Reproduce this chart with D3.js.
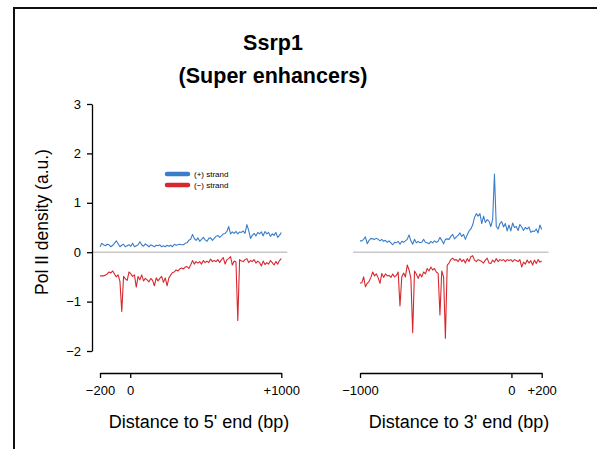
<!DOCTYPE html>
<html>
<head>
<meta charset="utf-8">
<script src="https://cdn.jsdelivr.net/npm/d3@7"></script>
<style>
  body { margin: 0; background: #fff; }
  svg { display: block; }
  text { font-family: "Liberation Sans", Arial, sans-serif; fill: #000; }
</style>
</head>
<body>
<div id="chart"></div>
<script>
// binned Pol II density, 12 bp bins
var STEP = 12;

// 5' end panel, -200 .. +1000 bp
var fivePlus = [0.11,0.18,0.15,0.13,0.16,0.15,0.11,0.14,0.18,0.23,0.17,0.11,0.14,0.16,0.11,0.13,0.15,0.12,0.18,0.11,
  0.13,0.15,0.21,0.15,0.12,0.17,0.14,0.11,0.15,0.13,0.11,0.14,0.13,0.15,0.11,0.13,0.11,0.14,0.12,0.14,
  0.11,0.16,0.14,0.15,0.16,0.15,0.15,0.18,0.19,0.24,0.26,0.36,0.28,0.24,0.29,0.22,0.26,0.30,0.25,0.22,
  0.28,0.29,0.24,0.28,0.32,0.34,0.30,0.33,0.37,0.38,0.42,0.52,0.37,0.41,0.38,0.42,0.37,0.41,0.40,0.43,
  0.38,0.56,0.44,0.28,0.34,0.38,0.33,0.40,0.37,0.41,0.33,0.42,0.37,0.40,0.32,0.37,0.34,0.40,0.30,0.34,0.40];
var fiveMinus = [-0.48,-0.48,-0.48,-0.46,-0.44,-0.40,-0.42,-0.38,-0.44,-0.50,-0.46,-0.59,-1.20,-0.49,-0.54,-0.57,-0.40,-0.44,-0.49,-0.46,
  -0.71,-0.49,-0.56,-0.46,-0.58,-0.53,-0.56,-0.60,-0.53,-0.57,-0.68,-0.52,-0.58,-0.53,-0.49,-0.61,-0.52,-0.68,-0.52,-0.46,
  -0.41,-0.40,-0.36,-0.38,-0.34,-0.32,-0.34,-0.30,-0.29,-0.33,-0.26,-0.17,-0.24,-0.19,-0.22,-0.19,-0.24,-0.17,-0.21,-0.18,
  -0.21,-0.14,-0.19,-0.17,-0.19,-0.15,-0.21,-0.15,-0.11,-0.24,-0.15,-0.13,-0.09,-0.26,-0.18,-0.20,-1.38,-0.15,-0.18,-0.19,
  -0.15,-0.13,-0.21,-0.17,-0.19,-0.15,-0.22,-0.18,-0.21,-0.28,-0.18,-0.25,-0.21,-0.24,-0.17,-0.21,-0.26,-0.19,-0.24,-0.17,-0.13];

// 3' end panel, -1000 .. +200 bp
var threePlus = [0.23,0.23,0.26,0.31,0.17,0.24,0.28,0.27,0.26,0.28,0.26,0.23,0.26,0.22,0.24,0.20,0.23,0.19,0.15,0.20,
  0.19,0.22,0.16,0.22,0.20,0.23,0.26,0.35,0.23,0.16,0.26,0.19,0.22,0.19,0.20,0.26,0.20,0.19,0.17,0.22,
  0.19,0.23,0.20,0.22,0.30,0.24,0.17,0.26,0.27,0.26,0.32,0.36,0.27,0.31,0.34,0.39,0.32,0.36,0.26,0.35,
  0.43,0.47,0.55,0.70,0.78,0.73,0.78,0.58,0.73,0.60,0.66,0.63,0.52,0.66,1.58,0.52,0.47,0.58,0.62,0.51,
  0.58,0.43,0.55,0.43,0.59,0.50,0.52,0.44,0.56,0.51,0.44,0.50,0.47,0.51,0.40,0.43,0.42,0.47,0.39,0.55,0.46];
var threeMinus = [-0.63,-0.62,-0.50,-0.70,-0.63,-0.59,-0.51,-0.40,-0.48,-0.44,-0.52,-0.63,-0.43,-0.51,-0.44,-0.48,-0.47,-0.51,-0.44,-0.50,
  -0.47,-0.40,-1.09,-0.50,-0.42,-0.50,-0.26,-0.36,-0.53,-1.63,-0.38,-0.44,-0.53,-0.44,-0.50,-0.40,-0.44,-0.33,-0.38,-0.30,
  -0.36,-0.33,-0.40,-0.43,-1.27,-0.38,-0.50,-1.74,-0.26,-0.22,-0.15,-0.12,-0.16,-0.15,-0.19,-0.13,-0.19,-0.15,-0.22,-0.13,
  -0.19,-0.09,-0.07,-0.16,-0.19,-0.15,-0.17,-0.19,-0.22,-0.16,-0.12,-0.22,-0.23,-0.16,-0.20,-0.13,-0.19,-0.15,-0.17,-0.15,
  -0.19,-0.15,-0.17,-0.15,-0.19,-0.15,-0.17,-0.19,-0.15,-0.30,-0.20,-0.24,-0.16,-0.22,-0.17,-0.26,-0.16,-0.23,-0.15,-0.20,-0.18];

var fiveTicks = [-200, 0, 1000],
    threeTicks = [-1000, 0, 200],
    yTicks = [-2, -1, 0, 1, 2, 3];

var BLUE = "#3a7dc9",
    RED = "#d7282f";

var width = 597, height = 449;

var svg = d3.select("#chart").append("svg")
  .attr("width", width)
  .attr("height", height);

// frame
svg.append("rect")
  .attr("x", 14).attr("y", 8)
  .attr("width", 620).attr("height", 480)
  .attr("fill", "none")
  .attr("stroke", "#111")
  .attr("stroke-width", 2);

var y = d3.scaleLinear().domain([-2, 3]).range([351, 104]);

// x ticks carry an explicit sign, y ticks only a minus
function signed(d) {
  if (d > 0) return "+" + d;
  if (d < 0) return "\u2212" + Math.abs(d);
  return "0";
}
function minusOnly(d) {
  return d < 0 ? "\u2212" + Math.abs(d) : "" + d;
}

function drawPanel(opts) {
  var x = d3.scaleLinear().domain(opts.domain).range(opts.range);
  var g = svg.append("g");

  // zero line
  g.append("line")
    .attr("x1", x(opts.zero[0])).attr("x2", x(opts.zero[1]))
    .attr("y1", y(0)).attr("y2", y(0))
    .attr("stroke", "#c8c8c8")
    .attr("stroke-width", 1.5);

  var line = d3.line()
    .x(function (d, i) { return x(opts.domain[0] + i * STEP); })
    .y(function (d) { return y(d); });

  g.append("path").datum(opts.plus)
    .attr("d", line).attr("fill", "none")
    .attr("stroke", BLUE).attr("stroke-width", 1.1)
    .attr("stroke-linejoin", "round");
  g.append("path").datum(opts.minus)
    .attr("d", line).attr("fill", "none")
    .attr("stroke", RED).attr("stroke-width", 1.1)
    .attr("stroke-linejoin", "round");

  var ax = g.append("g")
    .attr("transform", "translate(0,373)")
    .call(d3.axisBottom(x).tickValues(opts.ticks).tickFormat(signed)
      .tickSize(5).tickSizeOuter(0).tickPadding(8));
  ax.selectAll("path, line").attr("stroke", "#000").attr("stroke-width", 1.3);
  ax.selectAll("text").style("font-family", "Liberation Sans, Arial, sans-serif")
    .style("font-size", "13px").attr("fill", "#000");

  g.append("text")
    .attr("x", opts.labelX).attr("y", 428)
    .attr("text-anchor", "middle")
    .style("font-size", "18px")
    .text(opts.label);
}

drawPanel({
  domain: [-200, 1000], range: [100, 281.3], zero: [-255, 1040],
  plus: fivePlus, minus: fiveMinus, ticks: fiveTicks,
  label: "Distance to 5' end (bp)", labelX: 199
});
drawPanel({
  domain: [-1000, 200], range: [360, 541.7], zero: [-1045, 245],
  plus: threePlus, minus: threeMinus, ticks: threeTicks,
  label: "Distance to 3' end (bp)", labelX: 459
});

// y axis
var yAx = svg.append("g")
  .attr("transform", "translate(92,0)")
  .call(d3.axisLeft(y).tickValues(yTicks).tickFormat(minusOnly)
    .tickSize(5).tickSizeOuter(0).tickPadding(6));
yAx.selectAll("path, line").attr("stroke", "#000").attr("stroke-width", 1.3);
yAx.selectAll("text").style("font-family", "Liberation Sans, Arial, sans-serif")
  .style("font-size", "13px").attr("fill", "#000");

svg.append("text")
  .attr("transform", "translate(48,222) rotate(-90)")
  .attr("text-anchor", "middle")
  .style("font-size", "17.5px")
  .text("Pol II density (a.u.)");

// title
svg.append("text")
  .attr("x", 273).attr("y", 50)
  .attr("text-anchor", "middle")
  .style("font-size", "21.5px").style("font-weight", "bold")
  .text("Ssrp1");
svg.append("text")
  .attr("x", 273).attr("y", 83)
  .attr("text-anchor", "middle")
  .style("font-size", "21.5px").style("font-weight", "bold")
  .text("(Super enhancers)");

// legend
var legend = [
  { label: "(+) strand", color: BLUE },
  { label: "(\u2212) strand", color: RED }
];
var lg = svg.append("g").attr("transform", "translate(167,174)");
legend.forEach(function (d, i) {
  lg.append("line")
    .attr("x1", 0).attr("x2", 21)
    .attr("y1", i * 11).attr("y2", i * 11)
    .attr("stroke", d.color).attr("stroke-width", 4.5)
    .attr("stroke-linecap", "round");
  lg.append("text")
    .attr("x", 27).attr("y", i * 11 + 3)
    .style("font-size", "8px")
    .text(d.label);
});
</script>
</body>
</html>
